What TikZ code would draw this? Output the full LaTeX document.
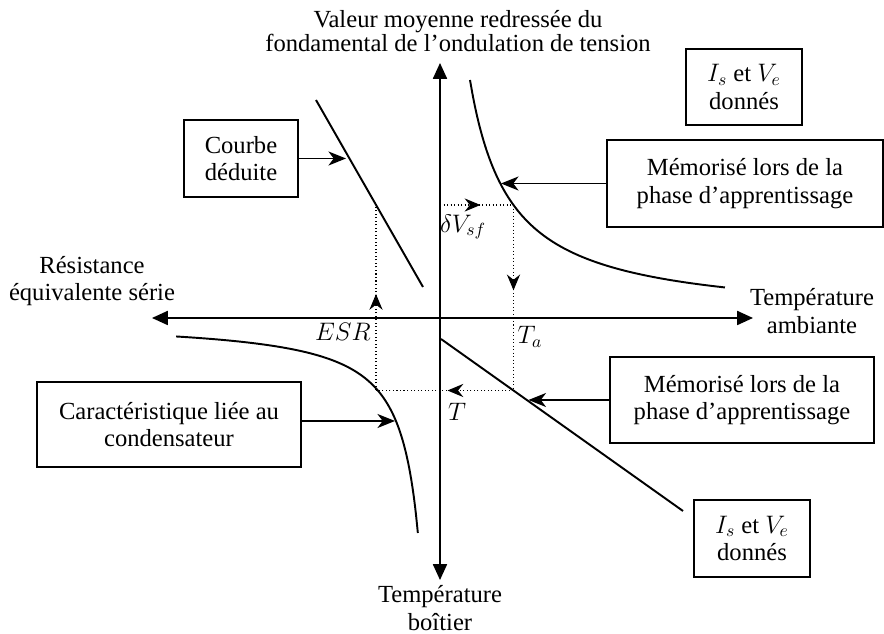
\documentclass[tikz,border=0pt]{standalone}
\usepackage{fontspec}
\setmainfont{Liberation Serif}
\usetikzlibrary{positioning,calc,arrows.meta,decorations.markings}

\tikzset{
  boite/.style={draw, line width=0.8pt, align=center, inner sep=2pt},
  axe/.style={line width=0.9pt, {Triangle[length=9pt,width=8pt]}-{Triangle[length=9pt,width=8pt]}},
  courbe/.style={line width=1.1pt},
  fleche/.style={line width=0.7pt, -{Stealth[length=10pt,width=8pt,inset=3pt]}},
  pointille/.style={dash pattern=on 0.6pt off 1.4pt, line width=0.6pt, postaction={decorate},
    decoration={markings, mark=at position #1 with {\arrow{Stealth[length=9pt,width=7.5pt,inset=3pt]}}}},
}

\begin{document}
\begin{tikzpicture}[font=\fontsize{14}{15.8}\selectfont]
    \useasboundingbox (-8.8,-6.32) rectangle (8.88,6.36);

    % axes
    \coordinate (haut) at (0,5.1);
    \coordinate (bas) at (0,-5.24);
    \coordinate (gauche) at (-5.76,0);
    \coordinate (droite) at (6.26,0);
    \draw[axe] (bas) -- (haut);
    \draw[axe] (gauche) -- (droite);

    \node[align=center, font=\fontsize{14}{13.5}\selectfont] (vmr) at (0.36,5.74) {Valeur moyenne redressée du\\fondamental de l’ondulation de tension};
    \node[align=center] (rse) at (-6.96,0.74) {Résistance\\équivalente série};
    \node[align=center] (tamb) at (7.44,0.14) {Température\\ambiante};
    \node[align=center] (tboit) at (0,-5.8) {Température\\boîtier};

    % courbes
    \draw[courbe] (-2.48,4.36) coordinate (cd1) -- (-0.34,0.62) coordinate (cd2);
    \draw[courbe] (0.02,-0.42) coordinate (ld1) -- (4.86,-3.86) coordinate (ld2);
    \draw[courbe, domain=0.6:5.7, samples=80, smooth] plot (\x, {3.84/(\x+0.2)-0.04});
    \draw[courbe, domain=0.443:5.28, samples=120, smooth] plot ({-\x}, {-(1.67/(\x-0.05)+0.05)});

    % parcours en pointilles
    \coordinate (pa) at (0,2.26);
    \coordinate (pb) at (1.47,2.26);
    \coordinate (pc) at (1.47,-1.45);
    \coordinate (pd) at (-1.28,-1.45);
    \coordinate (pe) at (-1.28,2.26);
    \draw[pointille=0.55] (pa) -- (pb);
    \draw[pointille=0.46] (pb) -- (pc);
    \draw[pointille=0.48] (pc) -- (pd);
    \draw[pointille=0.52] (pd) -- (pe);

    \node (dv) at (0.46,1.82) {$\delta V_{sf}$};
    \node (esr) at (-1.94,-0.28) {$ESR$};
    \node (ta) at (1.8,-0.38) {$T_a$};
    \node (tt) at (0.34,-1.88) {$T$};

    % boites
    \node[boite, minimum width=2.32cm, minimum height=1.52cm] (donnes1) at (6.08,4.62) {$I_s$ et $V_e$\\donnés};
    \node[boite, minimum width=5.52cm, minimum height=1.74cm] (memo1) at (6.1,2.69) {Mémorisé lors de la\\phase d’apprentissage};
    \node[boite, minimum width=2.28cm, minimum height=1.54cm] (deduite) at (-3.98,3.19) {Courbe\\déduite};
    \node[boite, minimum width=5.28cm, minimum height=1.7cm] (carac) at (-5.42,-2.13) {Caractéristique liée au\\condensateur};
    \node[boite, minimum width=5.28cm, minimum height=1.72cm] (memo2) at (6.04,-1.64) {Mémorisé lors de la\\phase d’apprentissage};
    \node[boite, minimum width=2.32cm, minimum height=1.54cm] (donnes2) at (6.24,-4.41) {$I_s$ et $V_e$\\donnés};

    \coordinate (pcd) at (-1.88,3.19);
    \coordinate (pm1) at (1.22,2.69);
    \coordinate (pm2) at (1.77,-1.64);
    \coordinate (pca) at (-0.9,-2.06);
    \draw[fleche] (deduite.east) -- (pcd);
    \draw[fleche] (memo1.west) -- (pm1);
    \draw[fleche] (memo2.west) -- (pm2);
    \draw[fleche] (carac.east |- pca) -- (pca);
\end{tikzpicture}
\end{document}
